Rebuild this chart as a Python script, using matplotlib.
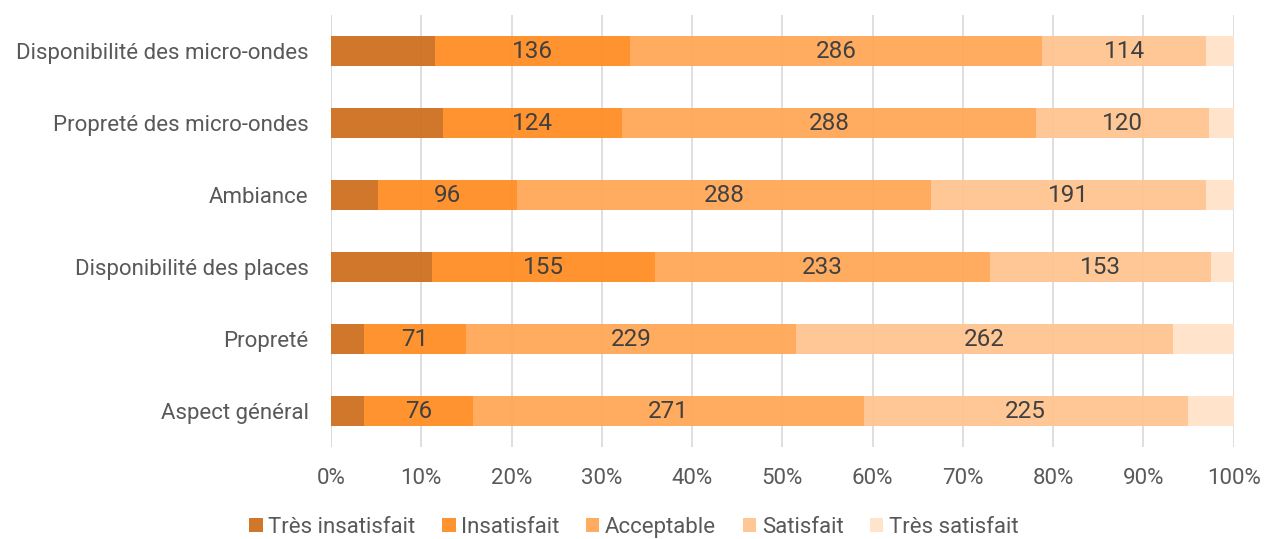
import numpy as np
import matplotlib.pyplot as plt

plt.rcParams['font.family'] = ['Roboto', 'DejaVu Sans']

categories = ["Disponibilité des micro-ondes", "Propreté des micro-ondes", "Ambiance",
              "Disponibilité des places", "Propreté", "Aspect général"]
series = ["Très insatisfait", "Insatisfait", "Acceptable", "Satisfait", "Très satisfait"]

tres_insatisfait = [72, 78, 33, 70, 23, 23]
insatisfait = [136, 124, 96, 155, 71, 76]
acceptable = [286, 288, 288, 233, 229, 271]
satisfait = [114, 120, 191, 153, 262, 225]
tres_satisfait = [19, 17, 19, 16, 42, 32]

colors = ["#CD6F1E", "#FF8C22", "#FFA756", "#FFC48E", "#FFE2C8"]
labelled = [False, True, True, True, False]

counts = np.array([tres_insatisfait, insatisfait, acceptable, satisfait, tres_satisfait], dtype=float)
shares = counts / counts.sum(axis=0)

fig = plt.figure(figsize=(12.68, 5.39), dpi=100)
ax = fig.add_axes([0.261, 0.1707, 0.712, 0.8013])

y = np.arange(len(categories))
left = np.zeros(len(categories))
for i, name in enumerate(series):
    ax.barh(y, shares[i], left=left, height=0.42, color=colors[i], alpha=0.94,
            label=name, zorder=2)
    if labelled[i]:
        for j in range(len(categories)):
            ax.text(left[j] + shares[i][j] / 2, y[j], f"{int(counts[i][j])}",
                    ha="center", va="center", fontsize=17.5, color="#404040", zorder=3)
    left += shares[i]

ax.set_xlim(0, 1)
ax.set_ylim(len(categories) - 0.5, -0.5)
ax.set_yticks(y)
ax.set_yticklabels(categories)
ax.set_xticks(np.linspace(0, 1, 11))
ax.set_xticklabels([f"{int(v)}%" for v in np.linspace(0, 100, 11)])
ax.tick_params(axis="both", length=0, labelsize=16, colors="#595959")
ax.tick_params(axis="y", pad=16)
ax.tick_params(axis="x", pad=15)
ax.grid(axis="x", color="#D9D9D9", linewidth=1.2, zorder=1)
ax.set_axisbelow(True)
for s in ax.spines.values():
    s.set_visible(False)
ax.axvline(0, color="#D9D9D9", linewidth=1.2, zorder=1)

leg = fig.legend(loc="lower center", bbox_to_anchor=(0.5, -0.035), ncol=5, frameon=False,
                 fontsize=16, handlelength=0.6, handleheight=0.6, handletextpad=0.25,
                 columnspacing=1.2)
for t in leg.get_texts():
    t.set_color("#595959")

fig.savefig("out.png", dpi=100)
